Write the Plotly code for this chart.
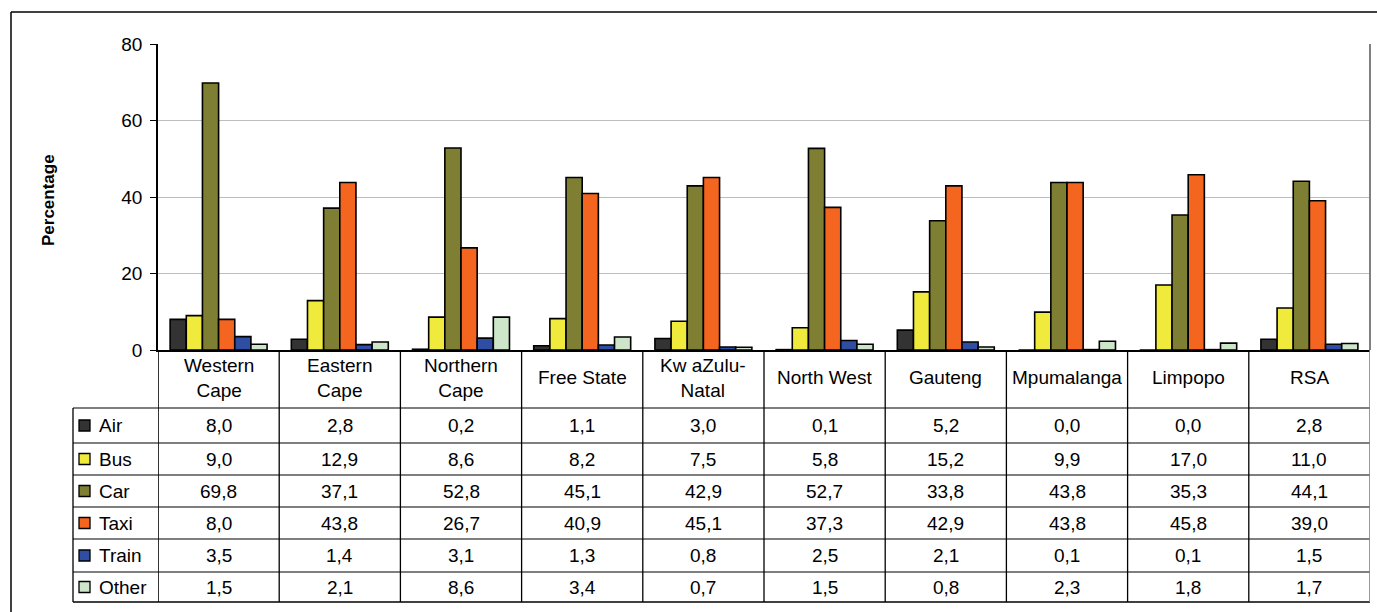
import plotly.graph_objects as go

# Provinces (table column headers) and the mode-of-travel shares per province
provinces = ["Western<br>Cape", "Eastern<br>Cape", "Northern<br>Cape", "Free State",
             "Kw aZulu-<br>Natal", "North West", "Gauteng", "Mpumalanga", "Limpopo", "RSA"]
air = [8.0, 2.8, 0.2, 1.1, 3.0, 0.1, 5.2, 0.0, 0.0, 2.8]
bus = [9.0, 12.9, 8.6, 8.2, 7.5, 5.8, 15.2, 9.9, 17.0, 11.0]
car = [69.8, 37.1, 52.8, 45.1, 42.9, 52.7, 33.8, 43.8, 35.3, 44.1]
taxi = [8.0, 43.8, 26.7, 40.9, 45.1, 37.3, 42.9, 43.8, 45.8, 39.0]
train = [3.5, 1.4, 3.1, 1.3, 0.8, 2.5, 2.1, 0.1, 0.1, 1.5]
other = [1.5, 2.1, 8.6, 3.4, 0.7, 1.5, 0.8, 2.3, 1.8, 1.7]
y_ticks = [0, 20, 40, 60, 80]

series = [
    ("Air", air, "#333333"),
    ("Bus", bus, "#F0EA3C"),
    ("Car", car, "#7E7F33"),
    ("Taxi", taxi, "#F4661F"),
    ("Train", train, "#2E4DA3"),
    ("Other", other, "#CDE6C9"),
]

W, H = 1377, 612
L, R, T, B = 158, 7, 44, 262
PW, PH = W - L - R, H - T - B
FONT = "Arial, Liberation Sans, sans-serif"
TXT = 19


def px_x(p):
    return (p - L) / PW


def px_y(p):
    return (H - B - p) / PH


fig = go.Figure()
for name, vals, col in series:
    fig.add_trace(go.Bar(
        x=list(range(len(provinces))), y=vals, name=name,
        marker=dict(color=col, line=dict(color="#000000", width=1.6)),
        showlegend=False,
    ))

shapes = []
annotations = []

# outer chart frame (top and left edges)
shapes.append(dict(type="line", xref="paper", yref="paper",
                   x0=px_x(11), x1=px_x(W + 5), y0=px_y(12), y1=px_y(12),
                   line=dict(color="#000000", width=1.5)))
shapes.append(dict(type="line", xref="paper", yref="paper",
                   x0=px_x(11), x1=px_x(11), y0=px_y(12), y1=px_y(H + 5),
                   line=dict(color="#000000", width=1.5)))

# plot-area right border
shapes.append(dict(type="line", xref="paper", yref="paper",
                   x0=1, x1=1, y0=0, y1=1, line=dict(color="#808080", width=2)))

# data table grid
header_bottom = 408
row_edges = [408, 443, 475, 507, 539, 572, 602]
for i, yy in enumerate(row_edges):
    shapes.append(dict(type="line", xref="paper", yref="paper",
                       x0=px_x(73), x1=1, y0=px_y(yy), y1=px_y(yy),
                       line=dict(color="#000000" if i == len(row_edges) - 1 else "#555555",
                                 width=1.3)))
# legend column left edge
shapes.append(dict(type="line", xref="paper", yref="paper",
                   x0=px_x(73), x1=px_x(73), y0=px_y(header_bottom), y1=px_y(602),
                   line=dict(color="#000000", width=1.3)))
# column separators
for k in range(len(provinces) + 1):
    shapes.append(dict(type="line", xref="x", yref="paper",
                       x0=k - 0.5, x1=k - 0.5, y0=0, y1=px_y(602),
                       line=dict(color="#808080" if k == len(provinces) else "#000000",
                                 width=1.3 if k not in (0, len(provinces)) else 1.6)))

# column headers
for i, lab in enumerate(provinces):
    annotations.append(dict(xref="x", yref="paper", x=i, y=px_y(378),
                            text=lab, showarrow=False, xanchor="center", yanchor="middle",
                            font=dict(family=FONT, size=TXT, color="#000000")))

# table rows: legend key, series name, values
row_centers = [(row_edges[j] + row_edges[j + 1]) / 2 for j in range(len(series))]
for (name, vals, col), yc in zip(series, row_centers):
    shapes.append(dict(type="rect", xref="paper", yref="paper",
                       x0=px_x(79), x1=px_x(90), y0=px_y(yc - 5.5), y1=px_y(yc + 5.5),
                       fillcolor=col, line=dict(color="#000000", width=1.3)))
    annotations.append(dict(xref="paper", yref="paper", x=px_x(97), y=px_y(yc),
                            text=name, showarrow=False, xanchor="left", yanchor="middle",
                            font=dict(family=FONT, size=TXT, color="#000000")))
    for i, v in enumerate(vals):
        annotations.append(dict(xref="x", yref="paper", x=i, y=px_y(yc),
                                text=f"{v:.1f}".replace(".", ","), showarrow=False,
                                xanchor="center", yanchor="middle",
                                font=dict(family=FONT, size=TXT, color="#000000")))

# y-axis title
annotations.append(dict(xref="paper", yref="paper", x=px_x(48), y=px_y(200),
                        text="<b>Percentage</b>", textangle=-90, showarrow=False,
                        xanchor="center", yanchor="middle",
                        font=dict(family=FONT, size=17, color="#000000")))

fig.update_layout(
    width=W, height=H,
    margin=dict(l=L, r=R, t=T, b=B, pad=0),
    paper_bgcolor="#FFFFFF", plot_bgcolor="#FFFFFF",
    barmode="group", bargap=0.2, bargroupgap=0,
    shapes=shapes, annotations=annotations,
    xaxis=dict(range=[-0.5, len(provinces) - 0.5], showticklabels=False, ticks="",
               showgrid=False, zeroline=False, showline=True,
               linecolor="#000000", linewidth=1.6, fixedrange=True),
    yaxis=dict(range=[0, 80], tickvals=y_ticks, ticks="outside", ticklen=6,
               tickcolor="#000000", tickwidth=1.3,
               tickfont=dict(family=FONT, size=TXT, color="#000000"),
               showgrid=True, gridcolor="#BDBDBD", gridwidth=1.3,
               zeroline=False, showline=True, linecolor="#000000", linewidth=1.6,
               ticklabelstandoff=4, fixedrange=True),
    font=dict(family=FONT),
)

fig.write_html("out.html")
